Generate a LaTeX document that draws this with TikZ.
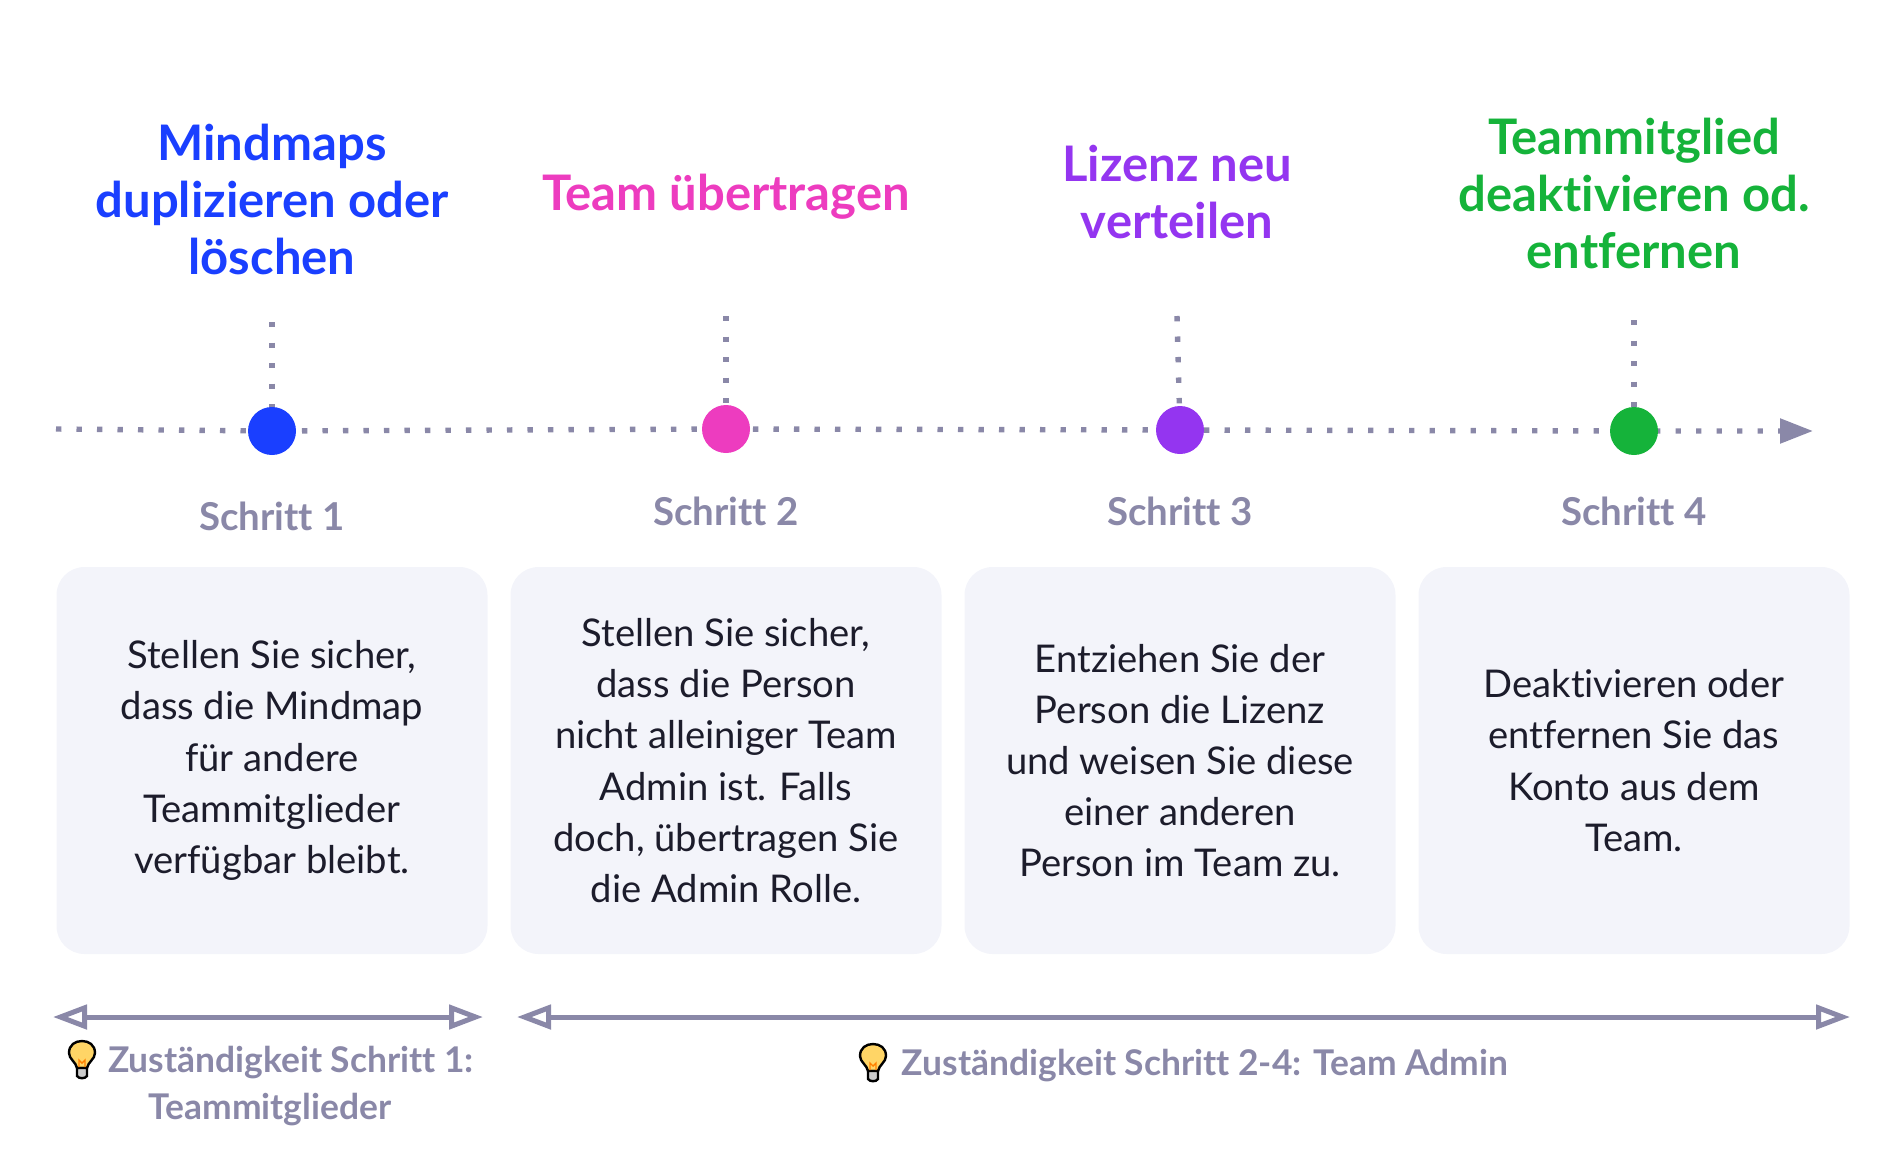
\documentclass[tikz,border=0pt]{standalone}
\usepackage{fontspec}
\setmainfont{Lato}[Ligatures=NoCommon]
\usetikzlibrary{arrows.meta,backgrounds}
\definecolor{slategray}{HTML}{8A88A8}
\definecolor{boxgray}{HTML}{F3F4FA}
\definecolor{bodyink}{HTML}{1C1C2B}
\definecolor{stepblue}{HTML}{1A3FFF}
\definecolor{steppink}{HTML}{ED3CBF}
\definecolor{steppurple}{HTML}{9435F0}
\definecolor{stepgreen}{HTML}{15B33A}
\newcommand{\fsize}[2]{\fontsize{#1}{#2}\selectfont}

\begin{document}
\begin{tikzpicture}[x=0.5pt, y=-0.5pt,
		Title/.style = {align=center, inner sep=0, font=\fsize{24.5}{28.5}\bfseries},
		Dot/.style = {circle, minimum size=24pt, inner sep=0},
		StepLabel/.style = {anchor=base, inner sep=0, text=slategray, font=\fsize{19.2}{22}\bfseries},
		StepBox/.style = {rounded corners=14pt, fill=boxgray, minimum width=215.5pt, minimum height=193.5pt,
			align=center, inner sep=0, text=bodyink, font=\fsize{19.1}{25.6}},
		Note/.style = {anchor=base, align=center, inner sep=0, text=slategray, font=\fsize{17.7}{23.5}\bfseries},
		Dots/.style = {slategray, line width=2.7pt, dash pattern=on 2.7pt off 7.55pt},
		Span/.style = {slategray, line width=2.5pt, {Triangle[open,length=17pt,width=12pt]}-{Triangle[open,length=17pt,width=12pt]}},
		bulb/.pic = {
			\draw[line width=1.2pt, fill=orange!55!yellow!60] (-5,8) .. controls (-6,2) and (-13,-1) .. (-13,-7)
				.. controls (-13,-15) and (-7,-19) .. (0,-19) .. controls (7,-19) and (13,-15) .. (13,-7)
				.. controls (13,-1) and (6,2) .. (5,8) -- cycle;
			\draw[line width=1.2pt, fill=gray!40] (-5,8) -- (-5,16) .. controls (-3,19) and (3,19) .. (5,16) -- (5,8) -- cycle;
			\draw[orange, line width=0.7pt] (-3,7) -- (-3,0) -- (0,3) -- (3,0) -- (3,7);
		}
	]
	\useasboundingbox (0,0) rectangle (1904,1172);

	\node[Title, text=stepblue] (title1) at (272,199) {Mindmaps\\duplizieren oder\\löschen};
	\node[Title, text=steppink] (title2) at (726,197) {Team übertragen};
	\node[Title, text=steppurple] (title3) at (1177,192) {Lizenz neu\\verteilen};
	\node[Title, text=stepgreen] (title4) at (1634,193) {Teammitglied\\deaktivieren od.\\entfernen};

	\node[Dot, fill=stepblue] (dot1) at (272,431) {};
	\node[Dot, fill=steppink] (dot2) at (726,429) {};
	\node[Dot, fill=steppurple] (dot3) at (1180,430) {};
	\node[Dot, fill=stepgreen] (dot4) at (1634,431) {};

	\coordinate (lineStart) at (56,429);
	\coordinate (lineEnd) at (1813,431);
	\coordinate (top1) at (272,322);
	\coordinate (top2) at (726,316);
	\coordinate (top3) at (1177,316);
	\coordinate (top4) at (1634,320);

	\begin{scope}[on background layer]
		\draw[Dots, -{Triangle[length=16.5pt,width=12pt]}] (lineStart) -- (dot1.center) -- (dot2.center) -- (dot3.center) -- (dot4.center) -- (lineEnd);
		\draw[Dots] (top1) -- (dot1.center);
		\draw[Dots] (top2) -- (dot2.center);
		\draw[Dots] (top3) -- (dot3.center);
		\draw[Dots] (top4) -- (dot4.center);
	\end{scope}

	\node[StepLabel] (label1) at (272,530) {Schritt 1};
	\node[StepLabel] (label2) at (726,525) {Schritt 2};
	\node[StepLabel] (label3) at (1180,525) {Schritt 3};
	\node[StepLabel] (label4) at (1634,525) {Schritt 4};

	\begin{scope}[nodes=StepBox]
		\node (box1) at (272,760.5) {Stellen Sie sicher,\\dass die Mindmap\\für andere\\Teammitglieder\\verfügbar bleibt.};
		\node (box2) at (726,760.5) {Stellen Sie sicher,\\dass die Person\\nicht alleiniger Team\\Admin ist. Falls\\doch, übertragen Sie\\die Admin Rolle.};
		\node (box3) at (1180,760.5) {Entziehen Sie der\\Person die Lizenz\\und weisen Sie diese\\einer anderen\\Person im Team zu.};
		\node (box4) at (1634,760.5) {Deaktivieren oder\\entfernen Sie das\\Konto aus dem\\Team.};
	\end{scope}

	\coordinate (span1a) at (53,1017);
	\coordinate (span1b) at (483,1017);
	\coordinate (span2a) at (517,1017);
	\coordinate (span2b) at (1850,1017);
	\draw[Span] (span1a) -- (span1b);
	\draw[Span] (span2a) -- (span2b);

	\pic at (82,1060) {bulb};
	\pic at (873,1063) {bulb};
	\node[Note] (note1) at (291,1072) {Zuständigkeit Schritt 1:};
	\node[Note] (note1b) at (270,1119) {Teammitglieder};
	\node[Note] (note2) at (1205,1075) {Zuständigkeit Schritt 2-4: Team Admin};
\end{tikzpicture}
\end{document}
